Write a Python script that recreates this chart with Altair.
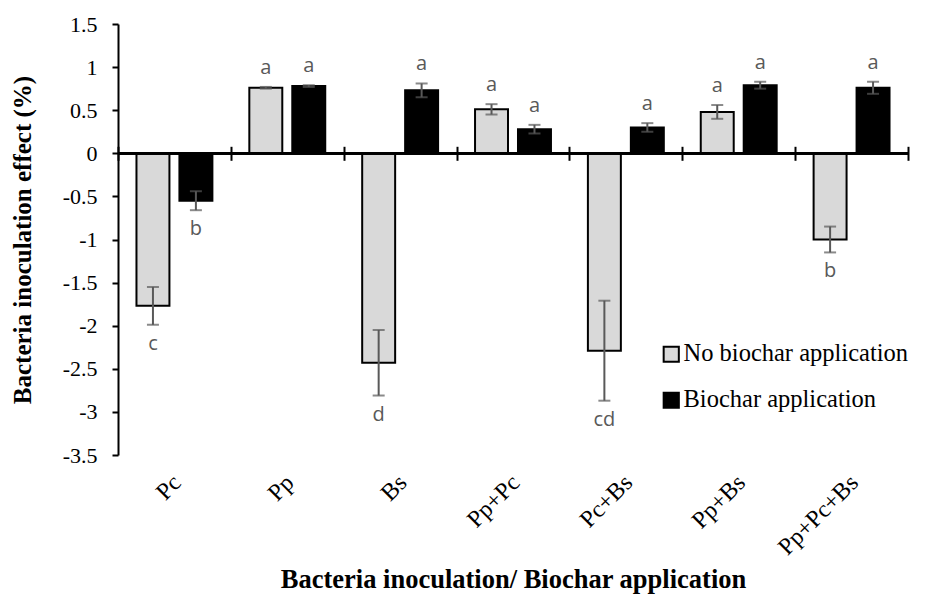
import altair as alt
import pandas as pd

categories = ["Pc", "Pp", "Bs", "Pp+Pc", "Pc+Bs", "Pp+Bs", "Pp+Pc+Bs"]
groups = ["No biochar application", "Biochar application"]
no_biochar = [-1.77, 0.76, -2.43, 0.51, -2.29, 0.48, -1.00]
no_biochar_err = [0.22, 0.01, 0.38, 0.06, 0.58, 0.08, 0.15]
no_biochar_letters = ["c", "a", "d", "a", "cd", "a", "b"]
biochar = [-0.55, 0.78, 0.73, 0.28, 0.30, 0.79, 0.76]
biochar_err = [0.11, 0.01, 0.08, 0.05, 0.05, 0.04, 0.07]
biochar_letters = ["b", "a", "a", "a", "a", "a", "a"]
y_ticks = [-3.5, -3, -2.5, -2, -1.5, -1, -0.5, 0, 0.5, 1, 1.5]
group_colors = ["#d9d9d9", "#000000"]

rows = []
for cat, v, e, l in zip(categories, no_biochar, no_biochar_err, no_biochar_letters):
    rows.append({"Category": cat, "Group": groups[0], "Value": v, "Err": e, "Letter": l})
for cat, v, e, l in zip(categories, biochar, biochar_err, biochar_letters):
    rows.append({"Category": cat, "Group": groups[1], "Value": v, "Err": e, "Letter": l})
df = pd.DataFrame(rows)
df["Lo"] = df["Value"] - df["Err"]
df["Hi"] = df["Value"] + df["Err"]

W, H = 790, 431
SERIF = "Liberation Serif"

x_enc = alt.X(
    "Category:N",
    sort=categories,
    scale=alt.Scale(paddingInner=0, paddingOuter=0),
    axis=alt.Axis(
        title="Bacteria inoculation/ Biochar application",
        offset=-308.7,
        domain=False,
        tickBand="extent",
        tickSize=14,
        tickWidth=2,
        tickColor="black",
        labelAngle=-45,
        labelAlign="right",
        labelBaseline="top",
        labelPadding=310,
        labelOffset=-6,
        labelFont=SERIF,
        labelFontSize=24,
        labelColor="black",
        titleFont=SERIF,
        titleFontSize=26.5,
        titleFontWeight="bold",
        titleColor="black",
        titleY=441,
        titleBaseline="alphabetic",
        grid=False,
    ),
)
xoff_enc = alt.XOffset(
    "Group:N", sort=groups, scale=alt.Scale(paddingInner=0.2326, paddingOuter=0.43)
)
y_scale = alt.Scale(domain=[-3.5, 1.5], nice=False, zero=False)

base = alt.Chart(df).encode(x=x_enc, xOffset=xoff_enc)

bars = base.mark_bar(stroke="black", strokeWidth=2).encode(
    y=alt.Y(
        "Value:Q",
        scale=y_scale,
        axis=alt.Axis(
            title="Bacteria inoculation effect (%)",
            values=y_ticks,
            labelExpr="datum.value + ''",
            domainColor="black",
            domainWidth=2,
            tickColor="black",
            tickWidth=2,
            tickSize=6,
            labelPadding=15,
            labelFont=SERIF,
            labelFontSize=22,
            labelColor="black",
            titleFont=SERIF,
            titleFontSize=25,
            titleFontWeight="bold",
            titleColor="black",
            titleX=-87.5,
            titleBaseline="alphabetic",
            grid=False,
        ),
    ),
    fill=alt.Fill(
        "Group:N",
        sort=groups,
        scale=alt.Scale(domain=groups, range=group_colors),
        legend=alt.Legend(
            title=None,
            orient="none",
            legendX=541,
            legendY=318,
            symbolType="square",
            symbolSize=230,
            symbolStrokeColor="black",
            symbolStrokeWidth=2,
            labelFont=SERIF,
            labelFontSize=24.5,
            labelColor="black",
            labelOffset=0,
            labelLimit=400,
            rowPadding=21,
            padding=0,
        ),
    ),
)

err_color = "#595959"
err_lines = base.mark_rule(color=err_color, strokeWidth=2).encode(
    y=alt.Y("Lo:Q", scale=y_scale), y2="Hi:Q"
)
caps_lo = base.mark_tick(color=err_color, thickness=2, size=12).encode(
    y=alt.Y("Lo:Q", scale=y_scale)
)
caps_hi = base.mark_tick(color=err_color, thickness=2, size=12).encode(
    y=alt.Y("Hi:Q", scale=y_scale)
)

zero_line = alt.Chart(df).mark_rule(color="black", strokeWidth=2).encode(
    y=alt.datum(0, scale=y_scale)
)

labels_pos = base.transform_filter("datum.Value >= 0").mark_text(
    dy=-19, font="Open Sans", fontSize=20, color=err_color, baseline="middle"
).encode(y=alt.Y("Hi:Q", scale=y_scale), text="Letter:N")
labels_neg = base.transform_filter("datum.Value < 0").mark_text(
    dy=19, font="Open Sans", fontSize=20, color=err_color, baseline="middle"
).encode(y=alt.Y("Lo:Q", scale=y_scale), text="Letter:N")

chart = (
    alt.layer(bars, zero_line, err_lines, caps_lo, caps_hi, labels_pos, labels_neg)
    .properties(
        width=W,
        height=H,
        autosize=alt.AutoSizeParams(type="none"),
        padding={"left": 110, "top": 16, "right": 12, "bottom": 142},
        background="white",
    )
    .configure_view(stroke="transparent")
    .configure_axis(labelFont=SERIF, titleFont=SERIF)
    .configure_legend(labelFont=SERIF)
)

chart.save("out.html", embed_options={"renderer": "svg", "actions": False})
